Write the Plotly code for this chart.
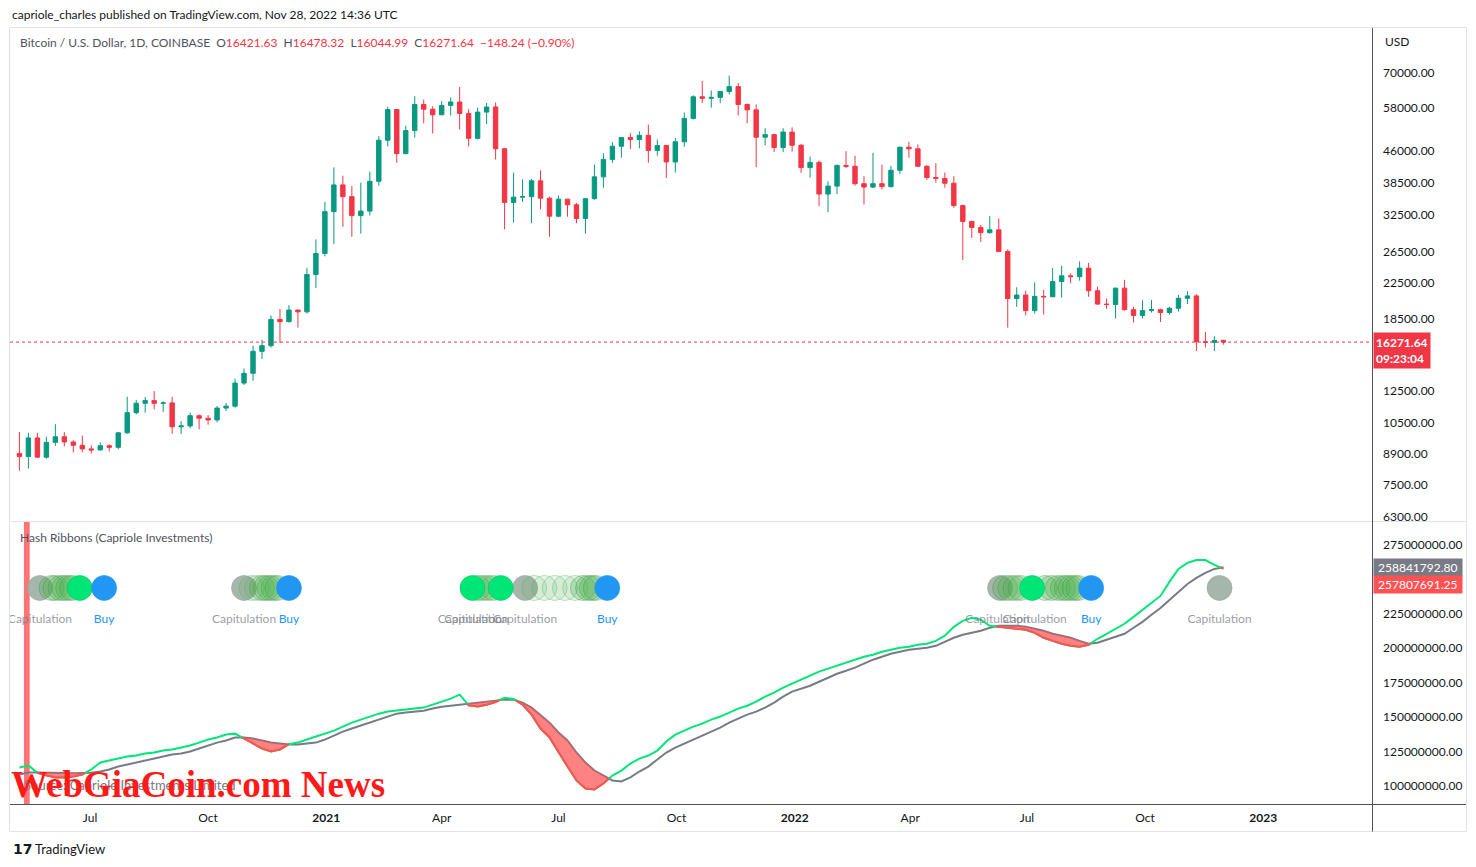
import numpy as np
import pandas as pd
import plotly.graph_objects as go

# ---------------- data (weekly) ----------------
WEEK_START = '2020-05-04'
N_WEEKS = 135
week_dates = pd.date_range(WEEK_START, periods=N_WEEKS, freq='7D') + pd.Timedelta(days=3)

first_open = 8900.0
highs = [10000, 9950, 9950, 9750, 10430, 9990, 9560, 9800, 9300, 9450,
         9350, 10000, 12100, 11900, 12080, 12480, 11800, 12100, 10600, 11100,
         10990, 10950, 11500, 11700, 13350, 14100, 15960, 16480, 18800, 19480,
         19900, 19400, 24300, 28400, 34800, 41950, 40100, 37900, 38600, 41000,
         49700, 58300, 57500, 52600, 61700, 60600, 58400, 60100, 61300, 64850,
         57500, 58000, 59500, 59600, 46600, 40800, 39300, 39400, 41300, 35800,
         36000, 35400, 34600, 35500, 42600, 45300, 48100, 49400, 50500, 51000,
         52900, 48800, 47300, 49200, 56500, 62000, 67000, 63700, 63500, 69000,
         66300, 59300, 59000, 51900, 50300, 51900, 52100, 47600, 44500, 43500,
         38900, 42600, 45800, 44700, 40000, 45400, 42600, 42300, 46900, 48200,
         47500, 42450, 42900, 40800, 40000, 34300, 31400, 30700, 32200, 31800,
         26900, 21900, 21500, 22500, 21600, 24300, 24600, 23600, 25200, 25000,
         22000, 20600, 21850, 22800, 19700, 20400, 20450, 19500, 19700, 21000,
         21450, 21100, 17200, 16800, 16478.32]
lows = [8100, 8200, 8700, 8650, 9270, 9250, 8950, 8950, 8900, 9050,
        9000, 9100, 9900, 11000, 11100, 11300, 11150, 9900, 9880, 10200,
        10140, 10400, 10530, 11200, 11400, 12900, 13200, 14850, 15800, 16200,
        18100, 17600, 19000, 21800, 25900, 27700, 30400, 28800, 29300, 32300,
        38000, 47000, 43000, 45000, 49300, 53300, 50400, 55700, 55600, 51500,
        47000, 48800, 53000, 43800, 30000, 31100, 34800, 31000, 33400, 28800,
        32000, 32100, 31000, 29300, 35200, 37600, 43000, 44200, 46300, 46500,
        43000, 44700, 39600, 40800, 46900, 54400, 59500, 58000, 59400, 62300,
        55600, 53300, 42000, 47300, 45600, 45550, 45700, 40700, 39700, 34000,
        32900, 36300, 41800, 38000, 34300, 37500, 37200, 37600, 40500, 44200,
        42100, 39200, 38600, 37600, 33700, 25400, 28600, 28000, 29300, 26500,
        17600, 19700, 18800, 19000, 18900, 20800, 20700, 22400, 22700, 20800,
        19900, 19500, 18500, 19300, 18100, 18500, 19100, 18150, 18900, 19200,
        20000, 15500, 15800, 15500, 16044.99]
closes = [8750, 9680, 8720, 9450, 9740, 9470, 9300, 9120, 9070, 9280,
          9200, 9950, 11100, 11680, 11850, 11680, 11700, 10280, 10330, 10920,
          10770, 10670, 11380, 11500, 13030, 13740, 15480, 15960, 18400, 18180,
          19360, 19170, 23470, 26300, 33000, 38150, 35800, 32300, 33100, 38900,
          48600, 57400, 45200, 51200, 59000, 57500, 55800, 58700, 59800, 56200,
          49100, 56600, 58200, 46400, 34700, 35700, 35800, 39000, 35500, 32200,
          35300, 34250, 31800, 35400, 39850, 43800, 47050, 49300, 48800, 49900,
          46000, 47250, 43200, 48200, 54700, 61500, 61000, 61300, 63300, 65000,
          59000, 57300, 49400, 50100, 46700, 50800, 47300, 41900, 43100, 36300,
          37900, 42400, 42200, 38400, 37700, 38400, 37800, 41300, 46800, 46400,
          42200, 39700, 39500, 38500, 34100, 31300, 30300, 29450, 29900, 26600,
          20600, 21000, 19300, 20850, 20800, 22600, 23300, 23200, 24300, 21500,
          20000, 19950, 21800, 19400, 18800, 19300, 19400, 19100, 19550, 20630,
          20900, 16300, 16250, 16421.63, 16271.64]
opens = [first_open] + closes[:-1]

# Hash ribbons (millions): fast (30d) and slow (60d) moving averages
hash_fast_m = [113.4, 114.9, 109.5, 107.6, 106.2, 106.2, 106.9, 108.3, 112.0, 117.0,
               118.5, 119.9, 121.4, 122.1, 123.6, 124.3, 125.7, 126.5, 127.9, 129.4,
               131.5, 133.7, 135.2, 137.3, 138.0, 134.4, 130.8, 127.2, 125.0, 126.5,
               130.3, 131.5, 133.7, 135.9, 138.0, 140.2, 143.1, 146.0, 148.2, 150.4,
               152.5, 154.0, 154.7, 155.4, 156.2, 156.9, 159.1, 161.2, 163.4, 166.3,
               158.5, 157.8, 158.9, 161.0, 164.1, 163.2, 159.1, 151.8, 141.7, 135.2,
               124.3, 114.1, 104.0, 98.2, 97.5, 101.8, 107.6, 111.2, 116.3, 119.9,
               122.1, 125.7, 132.3, 137.3, 140.2, 143.1, 145.3, 148.2, 150.4, 153.3,
               156.2, 158.3, 161.2, 164.9, 167.8, 171.4, 174.3, 177.2, 180.1, 183.0,
               185.2, 187.3, 189.5, 191.7, 193.8, 195.3, 197.5, 198.9, 200.4, 201.1,
               202.5, 203.3, 205.4, 209.1, 215.6, 219.9, 222.1, 220.7, 216.3, 215.6,
               214.9, 214.1, 213.4, 211.2, 207.6, 205.4, 203.3, 201.8, 201.1, 202.5,
               206.9, 210.5, 214.1, 217.8, 222.8, 227.9, 233.0, 238.0, 248.2, 257.6,
               262.0, 264.1, 264.1, 260.5, 257.807691]
hash_slow_m = [108.3, 109.8, 109.8, 109.6, 109.4, 109.3, 109.3, 109.4, 109.6, 110.5,
               112.0, 114.1, 115.6, 117.0, 118.5, 119.9, 121.4, 122.8, 123.6, 125.0,
               127.2, 129.4, 131.5, 133.0, 135.2, 135.2, 134.4, 133.0, 131.5, 130.8,
               130.1, 130.1, 130.8, 131.5, 133.7, 136.6, 139.5, 141.7, 143.8, 146.0,
               148.2, 150.4, 152.5, 153.3, 154.0, 154.7, 156.2, 157.6, 158.3, 159.1,
               159.8, 160.5, 161.2, 162.0, 162.7, 162.7, 160.5, 156.9, 151.8, 146.0,
               138.8, 133.0, 124.3, 117.0, 111.2, 107.6, 104.0, 103.3, 106.2, 110.5,
               114.1, 119.2, 124.3, 127.9, 130.8, 133.7, 136.6, 139.5, 142.4, 146.0,
               148.9, 151.8, 154.0, 156.9, 160.5, 164.9, 168.5, 170.7, 172.8, 175.7,
               178.6, 181.5, 183.7, 185.9, 188.8, 191.7, 193.8, 196.0, 197.5, 198.9,
               199.6, 200.4, 201.8, 204.7, 207.6, 209.8, 211.2, 212.7, 214.9, 216.3,
               216.3, 216.3, 215.6, 214.1, 212.7, 210.5, 209.1, 207.6, 205.4, 203.3,
               204.0, 206.2, 208.3, 210.5, 214.9, 219.2, 224.3, 229.3, 235.1, 240.9,
               246.7, 251.1, 254.7, 257.6, 258.841793]

# signal circles
cap_dates = ['2020-05-23', '2020-10-29', '2021-06-05', '2022-06-10', '2022-11-28']
faint_dates = ['2020-11-04', '2020-11-08', '2021-06-12', '2021-06-20', '2021-06-28',
               '2021-07-06', '2021-07-14']
recovery_dates = ['2020-06-01', '2020-06-04', '2020-06-08', '2020-06-11', '2020-06-14', '2020-06-17',
                  '2020-11-12', '2020-11-15', '2020-11-18', '2020-11-21', '2020-11-24',
                  '2021-04-29', '2021-05-03', '2021-05-07', '2021-05-11',
                  '2021-07-20', '2021-07-24', '2021-07-27', '2021-07-30',
                  '2022-06-14', '2022-06-18', '2022-06-22', '2022-06-26',
                  '2022-07-15', '2022-07-20', '2022-07-25', '2022-07-29', '2022-08-01',
                  '2022-08-04', '2022-08-07', '2022-08-10']
bright_dates = ['2020-06-23', '2021-04-25', '2021-05-17', '2022-07-05']
buy_dates = ['2020-07-12', '2020-12-03', '2021-08-08', '2022-08-20']
cap_label_dates = ['2020-05-23', '2020-10-29', '2021-04-23', '2021-04-28', '2021-06-05',
                   '2022-06-08', '2022-07-07', '2022-11-28']
halving_band = ['2020-05-10 12:00', '2020-05-15']

price_ticks = [70000, 58000, 46000, 38500, 32500, 26500, 22500, 18500, 12500, 10500, 8900, 7500, 6300]
hash_ticks = [275e6, 225e6, 200e6, 175e6, 150e6, 125e6, 100e6]
x_tick_dates = ['2020-07-01', '2020-10-01', '2021-01-01', '2021-04-01', '2021-07-01', '2021-10-01',
                '2022-01-01', '2022-04-01', '2022-07-01', '2022-10-01', '2023-01-01']
x_tick_text = ['Jul', 'Oct', '<b>2021</b>', 'Apr', 'Jul', 'Oct', '<b>2022</b>', 'Apr', 'Jul', 'Oct', '<b>2023</b>']

last_open, last_high, last_low, last_close = 16421.63, 16478.32, 16044.99, 16271.64
last_change, last_change_pct = -148.24, -0.90
fast_last_label, slow_last_label = 257807691.25, 258841792.80
x_range = ['2020-04-29 16:00', '2023-03-26 19:00']
price_range = [6170, 89300]
hash_range = [86.9e6, 291.7e6]
SIGNAL_Y = 243.8e6
LABEL_Y = 220.5e6

# ---------------- styling ----------------
FONT = 'Lato, Noto Sans, sans-serif'
TXT = '#131722'
UP, DOWN = '#089981', '#f23645'
GREEN, GRAY, RED = '#00e676', '#787b86', '#ff5252'
W, H = 1476, 867
L, R, T, B = 10, 104, 28, 63


def px(x):
    return (x - L) / (W - L - R)


def py(y):
    return (H - B - y) / (H - T - B)


fig = go.Figure()

fig.add_trace(go.Candlestick(
    x=week_dates, open=opens, high=highs, low=lows, close=closes,
    increasing=dict(line=dict(color=UP, width=1), fillcolor=UP),
    decreasing=dict(line=dict(color=DOWN, width=1), fillcolor=DOWN),
    whiskerwidth=0, xaxis='x', yaxis='y', hoverinfo='skip'))

fig.add_trace(go.Scatter(x=x_range, y=[last_close, last_close], mode='lines',
                         line=dict(color=DOWN, width=1, dash='dot'), xaxis='x', yaxis='y'))

# hash ribbons
f = np.array(hash_fast_m) * 1e6
s = np.array(hash_slow_m) * 1e6
t = np.asarray(week_dates.astype('int64'), dtype=float) / 1e9
TT, FF, SS = [], [], []
for i in range(N_WEEKS):
    TT.append(t[i]); FF.append(f[i]); SS.append(s[i])
    if i < N_WEEKS - 1:
        d0, d1 = f[i] - s[i], f[i + 1] - s[i + 1]
        if d0 * d1 < 0:
            a = d0 / (d0 - d1)
            vc = f[i] + a * (f[i + 1] - f[i])
            TT.append(t[i] + a * (t[i + 1] - t[i])); FF.append(vc); SS.append(vc)
TT, FF, SS = np.array(TT), np.array(FF), np.array(SS)
DD = FF - SS
below = DD <= 1e-6
runs = []
j = 0
while j < len(DD):
    if below[j]:
        k = j
        while k + 1 < len(DD) and below[k + 1]:
            k += 1
        if (DD[j:k + 1] < -1e-6).any():
            runs.append((j, k))
        j = k + 1
    else:
        j += 1

fig.add_trace(go.Scatter(x=week_dates, y=s, mode='lines', line=dict(color=GRAY, width=2),
                         xaxis='x', yaxis='y2'))
fig.add_trace(go.Scatter(x=week_dates, y=f, mode='lines', line=dict(color=GREEN, width=2),
                         xaxis='x', yaxis='y2'))
for (a0, a1) in runs:
    tr = pd.to_datetime(TT[a0:a1 + 1], unit='s')
    xs = list(tr) + list(tr[::-1])
    ys = list(FF[a0:a1 + 1]) + list(SS[a0:a1 + 1][::-1])
    fig.add_trace(go.Scatter(x=xs, y=ys, mode='lines', fill='toself',
                             fillcolor='rgba(255,82,82,0.72)', line=dict(width=0),
                             xaxis='x', yaxis='y2'))
    fig.add_trace(go.Scatter(x=tr, y=FF[a0:a1 + 1], mode='lines', line=dict(color=RED, width=2),
                             xaxis='x', yaxis='y2'))


def circles(dates, color, line_color, size=25):
    fig.add_trace(go.Scatter(x=pd.to_datetime(dates), y=[SIGNAL_Y] * len(dates), mode='markers',
                             marker=dict(size=size, color=color, line=dict(color=line_color, width=1)),
                             xaxis='x', yaxis='y2'))


circles(cap_dates, 'rgba(160,178,165,0.95)', 'rgba(150,165,155,0.6)')
circles(faint_dates, 'rgba(76,175,80,0.12)', 'rgba(76,175,80,0.35)')
circles(recovery_dates, 'rgba(76,175,80,0.28)', 'rgba(56,142,60,0.35)')
circles(bright_dates, GREEN, 'rgba(0,200,100,0.6)')
circles(buy_dates, '#2196f3', 'rgba(33,150,243,0.6)')

fig.add_trace(go.Scatter(x=pd.to_datetime(cap_label_dates), y=[LABEL_Y] * len(cap_label_dates),
                         mode='text', text=['Capitulation'] * len(cap_label_dates),
                         textfont=dict(family=FONT, size=12, color='rgba(120,123,134,0.75)'),
                         xaxis='x', yaxis='y2'))
fig.add_trace(go.Scatter(x=pd.to_datetime(buy_dates), y=[LABEL_Y] * len(buy_dates),
                         mode='text', text=['Buy'] * len(buy_dates),
                         textfont=dict(family=FONT, size=12, color='#2196f3'),
                         xaxis='x', yaxis='y2'))

# ---------------- shapes ----------------
shapes = [
    dict(type='rect', xref='x', yref='y2 domain', x0=halving_band[0], x1=halving_band[1], y0=0, y1=1,
         fillcolor='rgba(255,82,82,0.8)', line=dict(width=0), layer='below'),
    dict(type='rect', xref='paper', yref='paper', x0=px(9.5), x1=px(1466.5), y0=py(831.5), y1=py(27.5),
         line=dict(color='#e0e3eb', width=1)),
    dict(type='line', xref='paper', yref='paper', x0=px(10), x1=px(1466), y0=py(521.5), y1=py(521.5),
         line=dict(color='#e0e3eb', width=1)),
    dict(type='line', xref='paper', yref='paper', x0=px(1372.5), x1=px(1372.5), y0=py(831.5), y1=py(28),
         line=dict(color='#50535e', width=1)),
    dict(type='line', xref='paper', yref='paper', x0=px(10), x1=px(1466), y0=py(804.5), y1=py(804.5),
         line=dict(color='#50535e', width=1)),
]

# ---------------- annotations ----------------
red = lambda v: f'<span style="color:{DOWN}">{v}</span>'
sp = '\u00a0\u00a0'
sym_line = ('Bitcoin / U.S. Dollar, 1D, COINBASE' + sp + 'O' + red(f'{last_open:.2f}') + sp +
            'H' + red(f'{last_high:.2f}') + sp + 'L' + red(f'{last_low:.2f}') + sp +
            'C' + red(f'{last_close:.2f}') + sp +
            red(f'\u2212{abs(last_change):.2f} (\u2212{abs(last_change_pct):.2f}%)'))

ann = [
    dict(text='capriole_charles published on TradingView.com, Nov 28, 2022 14:36 UTC',
         x=px(10), y=py(14), font=dict(size=12, color=TXT)),
    dict(text=sym_line, x=px(18), y=py(42), font=dict(size=12, color='#50535e')),
    dict(text='USD', x=px(1383), y=py(41), font=dict(size=12, color=TXT)),
    dict(text='Hash Ribbons (Capriole Investments)', x=px(18), y=py(537),
         font=dict(size=12, color='#50535e')),
    dict(text='Source: Capriole Investments Limited', x=px(22), y=py(785),
         font=dict(size=13, color='#787b86')),
    dict(text='<b>WebGiaCoin.com News</b>', x=px(9), y=py(784),
         font=dict(size=37, color='#ff1a1a', family='Liberation Serif, DejaVu Serif, serif')),
    dict(text='<b>17</b>', x=px(11), y=py(849), font=dict(size=14, color=TXT, family='DejaVu Sans')),
    dict(text='TradingView', x=px(33), y=py(849), font=dict(size=13, color=TXT)),
]
for a in ann:
    a.update(xref='paper', yref='paper', xanchor='left', yanchor='middle', showarrow=False)
    a['font'].setdefault('family', FONT)

ann += [
    dict(text=f'<b>{last_close:.2f}</b><br><b>09:23:04</b>', xref='paper', yref='y',
         x=1, xanchor='left', xshift=1, y=np.log10(last_close), yanchor='middle', yshift=-8,
         bgcolor=DOWN, borderpad=2, showarrow=False, align='left',
         font=dict(family=FONT, size=12, color='white')),
    dict(text=f'\u00a0{slow_last_label:.2f}\u00a0', xref='paper', yref='y2', x=1, xanchor='left', xshift=1,
         y=hash_slow_m[-1] * 1e6, yanchor='middle', bgcolor=GRAY, borderpad=1, showarrow=False,
         font=dict(family=FONT, size=12, color='white')),
    dict(text=f'\u00a0{fast_last_label:.2f}\u00a0', xref='paper', yref='y2', x=1, xanchor='left', xshift=1,
         y=hash_slow_m[-1] * 1e6, yanchor='middle', yshift=-17, bgcolor=RED, borderpad=1, showarrow=False,
         font=dict(family=FONT, size=12, color='white')),
]

fig.update_layout(
    width=W, height=H, margin=dict(l=L, r=R, t=T, b=B),
    paper_bgcolor='white', plot_bgcolor='white', showlegend=False, hovermode=False,
    font=dict(family=FONT, size=12, color=TXT),
    xaxis=dict(domain=[0, 1], anchor='y2', range=x_range, type='date',
               tickvals=x_tick_dates, ticktext=x_tick_text, showgrid=False, zeroline=False,
               showline=False, ticks='', ticklabelstandoff=5, rangeslider=dict(visible=False),
               tickfont=dict(size=12, color=TXT)),
    yaxis=dict(domain=[py(521), 1], anchor='x', side='right', type='log',
               range=[np.log10(price_range[0]), np.log10(price_range[1])],
               tickvals=price_ticks, ticktext=[f'{v:.2f}' for v in price_ticks],
               showgrid=False, zeroline=False, showline=False, ticks='', ticklabelstandoff=10,
               tickfont=dict(size=12, color=TXT)),
    yaxis2=dict(domain=[0, py(522)], anchor='x', side='right', range=hash_range,
                tickvals=hash_ticks, ticktext=[f'{v:.2f}' for v in hash_ticks],
                showgrid=False, zeroline=False, showline=False, ticks='', ticklabelstandoff=10,
                tickfont=dict(size=12, color=TXT)),
    shapes=shapes, annotations=ann,
)

fig.write_html('out.html')
